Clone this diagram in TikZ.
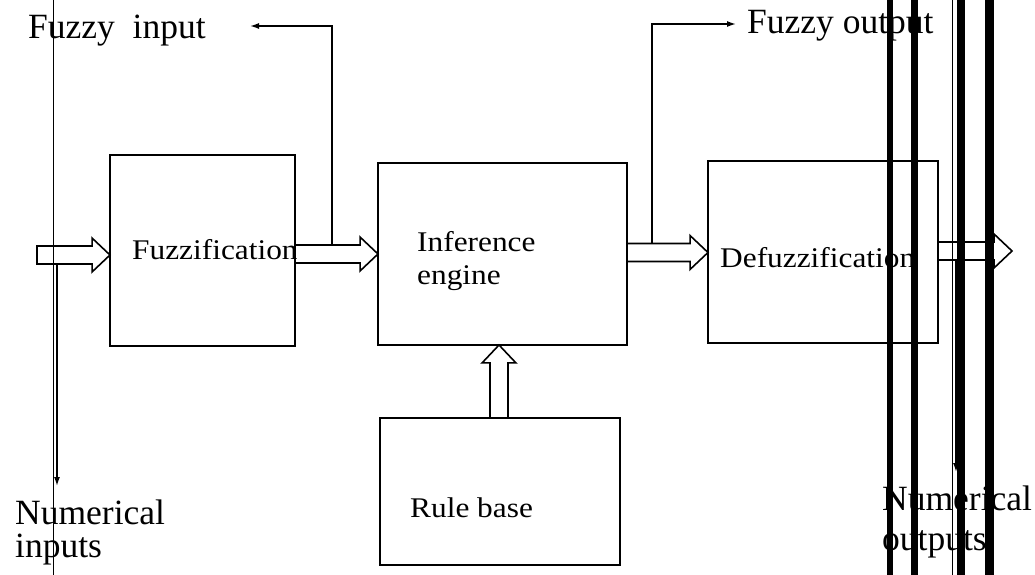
\documentclass[tikz,border=0pt]{standalone}
\usepackage{fontspec}
\setmainfont{Liberation Serif}
\newfontfamily\boxfont{Liberation Serif}[FakeStretch=1.1]
\usetikzlibrary{arrows.meta,calc}
\begin{document}
\begin{tikzpicture}[x=1bp,y=-1bp,
  stage/.style={draw,line width=1.6bp,inner sep=0,outer sep=0},
  boxtext/.style={anchor=base west,inner sep=0,font=\boxfont\fontsize{28.5bp}{33bp}\selectfont},
  bigtext/.style={anchor=base west,inner sep=0,font=\fontsize{35.5bp}{40bp}\selectfont},
  hollow/.style={draw,line width=1.6bp,line join=miter},
  % hollow block arrow pointing right (start and target share the same y)
  blockR/.style={
    to path={let \p1=(\tikztostart),\p2=(\tikztotarget) in
      (\x1,\y1+9) -- (\x2-18,\y1+9) -- (\x2-18,\y1+17) -- (\x2,\y1)
      -- (\x2-18,\y1-17) -- (\x2-18,\y1-9) -- (\x1,\y1-9) -- cycle}},
  % hollow block arrow pointing up
  blockU/.style={
    to path={let \p1=(\tikztostart),\p2=(\tikztotarget) in
      (\x1-9,\y1) -- (\x1-9,\y2-18) -- (\x1-17,\y2-18) -- (\x1,\y2)
      -- (\x1+17,\y2-18) -- (\x1+9,\y2-18) -- (\x1+9,\y1) -- cycle}},
  feed/.style={line width=1.5bp,-{Latex[length=9bp,width=6bp]}},
  bar/.style={fill=black}
]
\useasboundingbox (0,0) rectangle (1035,575);

% processing stages
\node[stage,minimum width=185bp,minimum height=191bp] (fuzz) at (202.5,250.5) {};
\node[stage,minimum width=249bp,minimum height=182bp] (inf) at (502.5,254) {};
\node[stage,minimum width=230bp,minimum height=182bp] (defuzz) at (823,252) {};
\node[stage,minimum width=240bp,minimum height=147bp] (rules) at (500,491.5) {};

\node[boxtext] (fuzzlbl) at (132,260) {Fuzzification};
\node[boxtext] (inflbl) at (417,252) {Inference};
\node[boxtext] (englbl) at (417,285) {engine};
\node[boxtext] (defuzzlbl) at (720,268) {Defuzzification};
\node[boxtext] (ruleslbl) at (410,517) {Rule base};

% outer labels
\node[bigtext] (fin) at (28,39) {Fuzzy~~input};
\node[bigtext] (fout) at (747,34) {Fuzzy output};
\node[bigtext] (nin1) at (15,524) {Numerical};
\node[bigtext] (nin2) at (15,557) {inputs};
\node[bigtext] (nout1) at (882,510) {Numerical};
\node[bigtext] (nout2) at (882,550) {outputs};

% block arrows along the chain
\coordinate (src) at (37,255);
\draw[hollow] (src) to[blockR] (fuzz.west |- src);
\coordinate (f2i) at (fuzz.east |- 0,254);
\draw[hollow] (f2i) to[blockR] (inf.west |- f2i);
\coordinate (i2d) at (inf.east |- 0,252.5);
\draw[hollow] (i2d) to[blockR] (defuzz.west |- i2d);
\coordinate (d2o) at (defuzz.east |- 0,251);
\coordinate (sink) at (1012,251);
\draw[hollow] (d2o) to[blockR] (sink);
\coordinate (r2i) at (499,418);
\draw[hollow] (r2i) to[blockU] (inf.south -| r2i);

% branch-off connectors to the outer labels
\coordinate (fbA) at (332,245);
\coordinate (fbAend) at (250,26);
\draw[feed] (fbA) |- (fbAend);
\coordinate (fbB) at (652,243.5);
\coordinate (fbBend) at (736,24);
\draw[feed] (fbB) |- (fbBend);
\coordinate (niA) at (57,264);
\coordinate (niAend) at (57,486);
\draw[feed] (niA) -- (niAend);
\coordinate (noA) at (956,261);
\coordinate (noAend) at (956,472);
\draw[feed] (noA) -- (noAend);

% vertical rules across the sheet
\draw[line width=1bp] (53,0) -- (53,575);
\fill[bar] (887,0) rectangle (893,575);
\fill[bar] (911,0) rectangle (918,575);
\draw[line width=1bp] (952,0) -- (952,575);
\fill[bar] (957,0) rectangle (965,575);
\fill[bar] (985,0) rectangle (994,575);
\end{tikzpicture}
\end{document}
